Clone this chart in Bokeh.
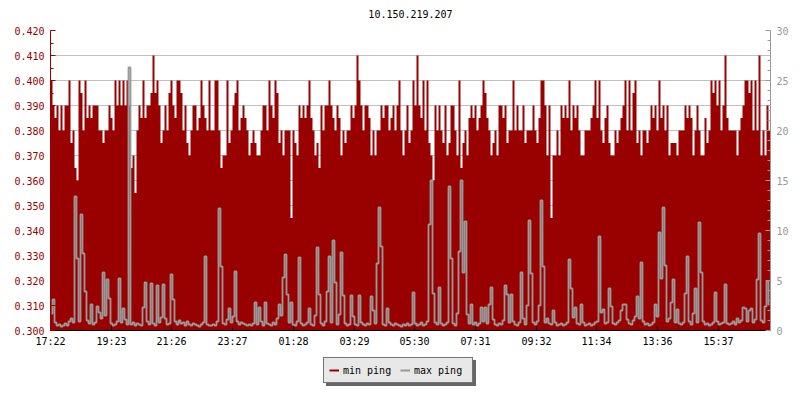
from bokeh.plotting import figure
from bokeh.layouts import column
from bokeh.models import Range1d, LinearAxis, FixedTicker, PrintfTickFormatter, Legend, LegendItem, Label
from bokeh.embed import file_html
from bokeh.resources import INLINE

TITLE = "10.150.219.207"
STEP_MIN = 4  # minutes per sample, first sample at 17:22

# minimum ping, microseconds (0.380 ms -> 380)
min_ping_us = [
    400, 390, 385, 390, 380, 390, 380, 390, 390, 400,
    375, 380, 365, 360, 400, 395, 380, 400, 385, 390,
    385, 390, 390, 390, 380, 380, 375, 380, 380, 390,
    385, 380, 400, 390, 400, 390, 400, 390, 400, 390,
    365, 370, 355, 380, 390, 385, 400, 385, 390, 390,
    395, 410, 395, 400, 390, 375, 380, 390, 380,
    395, 400, 390, 385, 400, 400, 395, 380, 390, 375,
    370, 380, 390, 390, 380, 385, 400, 390, 385, 380,
    400, 380, 380, 400, 400, 380, 365, 370, 370, 400,
    375, 380, 390, 395, 400, 380, 385, 390, 385, 380,
    370, 375, 380, 375, 370, 370, 380, 390, 390, 380,
    400, 390, 385, 400, 395, 375, 380, 370, 380, 380,
    380, 345, 380, 375, 370, 390, 385, 390, 385, 390,
    400, 385, 380, 370, 375, 365, 390, 380, 390, 390,
    400, 390, 385, 380, 390, 385, 370, 380, 375, 380,
    380, 390, 385, 390, 410, 400, 390, 380, 390, 390,
    385, 370, 380, 370, 380, 380, 390, 385, 390, 390,
    380, 385, 390, 380, 390, 400, 380, 370, 380, 390,
    375, 380, 400, 390, 410, 390, 385, 400, 380, 400,
    375, 370, 360, 390, 380, 390, 380, 375, 390, 370,
    375, 390, 390, 380, 370, 400, 365, 375, 380, 370,
    385, 390, 385, 390, 380, 385, 390, 400, 395, 385,
    380, 370, 375, 380, 370, 390, 390, 385, 390, 375,
    380, 380, 400, 380, 390, 380, 380, 390, 375, 380,
    380, 380, 390, 380, 375, 385, 400, 400, 390, 370,
    390, 345, 370, 370, 380, 370, 390, 385, 390, 385,
    400, 380, 390, 385, 390, 380, 370, 370, 380, 380,
    380, 385, 390, 400, 385, 400, 380, 375, 385, 390,
    375, 370, 370, 380, 375, 380, 385, 390, 400, 380,
    400, 380, 395, 400, 375, 380, 370, 380, 380, 375,
    380, 390, 385, 390, 380, 400, 385, 390, 380, 390,
    370, 375, 375, 375, 370, 380, 380, 380, 390, 385,
    390, 385, 370, 380, 390, 380, 370, 370, 385, 375,
    380, 400, 395, 400, 390, 400, 380, 390, 410, 385,
    380, 380, 380, 380, 370, 380, 385, 390, 400, 400,
    395, 400, 380, 400, 380, 410, 370, 380, 370, 390,
    380,
]

# maximum ping, milliseconds
max_ping_ms = [
    1.7, 3.1, 0.8, 0.5, 0.6, 0.4, 0.5, 0.7, 0.5, 0.9, 1.2, 0.8, 13.4, 7.2, 0.9, 11.6, 7.7, 3.9, 1.0, 0.7,
    2.6, 0.6, 0.8, 2.4, 1.8, 1.2, 5.8, 1.5, 5.1, 3.2, 0.7, 0.5, 0.6, 0.9, 5.2, 0.8, 2.2, 1.1, 0.6, 26.3,
    0.6, 0.8, 0.5, 0.7, 0.6, 0.5, 2.3, 4.8, 0.9, 0.6, 4.7, 0.7, 0.5, 4.5, 0.8, 1.3, 4.6, 1.2, 0.6, 0.7,
    5.6, 3.1, 0.9, 0.6, 1.0, 0.7, 0.8, 0.5, 0.9, 0.6, 0.5, 0.7, 0.6, 0.5, 0.4, 0.6, 0.8, 7.4, 0.6, 0.5,
    0.5, 0.6, 0.5, 0.9, 12.2, 6.4, 0.7, 0.6, 1.1, 2.2, 0.8, 1.4, 5.9, 0.9, 0.6, 0.8, 0.7, 0.6, 0.5, 0.6,
    0.5, 0.7, 2.8, 0.6, 2.3, 0.9, 0.5, 2.8, 0.7, 0.6, 0.5, 0.8, 0.6, 1.2, 2.6, 1.5, 5.3, 7.6, 3.6, 0.8,
    2.8, 0.6, 0.5, 0.9, 7.3, 0.7, 0.5, 0.6, 0.8, 2.2, 0.6, 0.5, 1.5, 8.3, 3.6, 0.7, 0.5, 0.9, 3.9, 7.4,
    0.8, 9.0, 4.8, 0.6, 1.6, 7.8, 3.5, 0.7, 0.5, 0.6, 3.5, 1.4, 0.6, 0.5, 3.5, 0.8, 0.6, 0.5, 0.7, 0.6,
    3.4, 2.0, 0.7, 6.7, 12.3, 8.4, 0.6, 0.5, 2.2, 0.8, 0.6, 0.5, 0.7, 0.6, 0.5, 0.4, 0.6, 0.5, 0.7, 0.5,
    0.6, 3.8, 0.7, 0.5, 0.6, 0.8, 0.5, 0.6, 0.9, 10.6, 15.0, 3.7, 0.8, 0.6, 4.3, 0.7, 0.5, 0.6, 0.8, 14.4,
    7.2, 0.7, 0.5, 1.7, 7.9, 15.0, 5.8, 10.9, 1.6, 0.7, 2.6, 0.6, 0.8, 0.5, 0.7, 2.3, 0.9, 2.3, 0.7, 2.6,
    4.3, 1.1, 0.6, 0.5, 0.7, 0.6, 1.0, 4.5, 3.6, 0.8, 3.6, 0.9, 0.6, 0.5, 0.8, 5.8, 1.2, 0.6, 2.5, 11.0,
    5.7, 0.8, 0.6, 0.9, 2.5, 13.0, 6.4, 0.8, 1.2, 0.7, 0.6, 2.0, 0.8, 0.5, 0.6, 0.7, 0.5, 0.6, 0.8, 7.1,
    4.2, 1.3, 2.3, 0.7, 0.6, 2.6, 0.8, 0.5, 0.6, 0.7, 0.5, 0.6, 0.8, 0.9, 9.4, 1.8, 2.1, 0.7, 0.8, 4.2,
    2.4, 0.7, 0.6, 0.8, 1.0, 2.0, 2.6, 2.6, 1.1, 0.7, 0.6, 1.0, 1.4, 3.4, 1.2, 6.8, 0.9, 0.6, 0.7, 0.5,
    0.6, 0.8, 2.6, 1.4, 9.8, 5.2, 12.3, 6.5, 0.9, 1.2, 2.8, 5.1, 0.8, 2.1, 0.7, 0.6, 0.8, 3.7, 7.4, 0.9,
    0.6, 1.7, 4.2, 0.8, 10.8, 5.8, 0.9, 0.6, 0.7, 0.5, 0.6, 0.8, 3.8, 0.9, 0.6, 0.7, 0.8, 4.6, 0.7, 0.6,
    0.7, 0.9, 0.6, 1.2, 0.8, 1.0, 2.3, 2.2, 0.9, 2.0, 2.2, 0.8, 1.1, 5.1, 9.7, 1.0, 0.8, 2.4, 4.9, 2.6,
]

x_tick_minutes = [0, 122, 242, 364, 486, 608, 728, 850, 972, 1092, 1214, 1336]
x_tick_labels = ["17:22", "19:23", "21:26", "23:27", "01:28", "03:29",
                 "05:30", "07:31", "09:32", "11:34", "13:36", "15:37"]
left_ticks = [0.30, 0.31, 0.32, 0.33, 0.34, 0.35, 0.36, 0.37, 0.38, 0.39, 0.40, 0.41, 0.42]
left_minor = [0.305, 0.315, 0.325, 0.335, 0.345, 0.355, 0.365, 0.375, 0.385, 0.395, 0.405, 0.415]
right_ticks = [0, 5, 10, 15, 20, 25, 30]
right_minor = [v for v in range(0, 31) if v % 5 != 0]
legend_labels = ["min ping", "max ping"]

RED = "#990000"
GRAY = "#999999"
SHADOW = "#666666"
FONT = "DejaVu Sans Mono"
FS = "10px"

n = len(min_ping_us)
total = n * STEP_MIN

# ---- title strip (frame aligned with the chart: x 50..770) ----
pt = figure(width=800, height=20, output_backend="svg", toolbar_location=None,
            x_range=Range1d(0, 720), y_range=Range1d(0, 20),
            x_axis_type=None, y_axis_type=None, min_border=0)
pt.outline_line_color = None
pt.grid.visible = False
pt.add_layout(Label(x=360, y=6.5, text=TITLE, text_align="center", text_baseline="middle",
                    text_font=FONT, text_font_size=FS, text_color="black"))

# ---- main chart ----
p = figure(width=800, height=330, output_backend="svg", toolbar_location=None,
           x_range=Range1d(0, total), y_range=Range1d(0.30, 0.42),
           min_border_left=50, min_border_right=30, min_border_top=10, min_border_bottom=20)
p.outline_line_color = None
p.background_fill_color = "white"
p.border_fill_color = "white"

# min ping area (step shaped)
xs, ys = [], []
for i, v in enumerate(min_ping_us):
    xs += [i * STEP_MIN, (i + 1) * STEP_MIN]
    ys += [v / 1000.0, v / 1000.0]
p.varea(x=xs, y1=0.30, y2=ys, fill_color=RED)

# max ping step line on right axis
p.extra_y_ranges = {"right": Range1d(0, 30)}
mx = [i * STEP_MIN + STEP_MIN / 2 for i in range(n)]
p.step(mx, max_ping_ms, mode="center", line_color=GRAY, line_width=1.8, y_range_name="right")

# axes
xt = FixedTicker(ticks=x_tick_minutes, minor_ticks=[])
p.xaxis.ticker = xt
p.xaxis.major_label_overrides = dict(zip(x_tick_minutes, x_tick_labels))
p.xaxis.axis_line_color = "black"
p.xaxis.major_tick_line_color = "black"
p.xaxis.major_tick_in = 4
p.xaxis.major_tick_out = 0
p.xaxis.minor_tick_line_color = None
p.xaxis.major_label_standoff = 5
p.xaxis.major_label_text_font = FONT
p.xaxis.major_label_text_font_size = FS
p.xaxis.major_label_text_color = "black"
p.xgrid.visible = False

lt = FixedTicker(ticks=left_ticks, minor_ticks=left_minor)
p.yaxis.ticker = lt
p.ygrid.ticker = lt
p.yaxis.formatter = PrintfTickFormatter(format="%.3f")
p.yaxis.axis_line_color = RED
p.yaxis.major_tick_line_color = RED
p.yaxis.minor_tick_line_color = RED
p.yaxis.major_tick_in = 5
p.yaxis.major_tick_out = 0
p.yaxis.minor_tick_in = 3
p.yaxis.minor_tick_out = 0
p.yaxis.major_label_standoff = 6
p.yaxis.major_label_text_font = FONT
p.yaxis.major_label_text_font_size = FS
p.yaxis.major_label_text_color = RED
p.ygrid.grid_line_color = "#c0c0c0"

rax = LinearAxis(y_range_name="right",
                 ticker=FixedTicker(ticks=right_ticks, minor_ticks=right_minor))
rax.axis_line_color = GRAY
rax.major_tick_line_color = GRAY
rax.minor_tick_line_color = GRAY
rax.major_tick_in = 5
rax.major_tick_out = 0
rax.minor_tick_in = 3
rax.minor_tick_out = 0
rax.major_label_standoff = 6
rax.major_label_text_font = FONT
rax.major_label_text_font_size = FS
rax.major_label_text_color = GRAY
p.add_layout(rax, "right")

# ---- legend strip below the chart (with drop shadow); frame aligned (x from 50) ----
p2 = figure(width=800, height=50, output_backend="svg", toolbar_location=None,
            x_range=Range1d(0, 800), y_range=Range1d(0, 50),
            x_axis_type=None, y_axis_type=None, min_border=0)
p2.outline_line_color = None
p2.grid.visible = False

# legend-only renderers, placed outside the visible range
off_x = [-100, -90]
off_y = [-100, -100]
r_min = p2.line(x=off_x, y=off_y, line_color=RED, line_width=2)
r_max = p2.line(x=off_x, y=off_y, line_color=GRAY, line_width=2)
s_min = p2.line(x=off_x, y=off_y, line_color=SHADOW, line_width=2)
s_max = p2.line(x=off_x, y=off_y, line_color=SHADOW, line_width=2)

def make_legend(labels, renderers, loc, bg, border, text_color):
    items = [LegendItem(label=lab, renderers=[r]) for lab, r in zip(labels, renderers)]
    return Legend(items=items, location=loc, orientation="horizontal",
                  glyph_width=10, glyph_height=14, label_height=14, label_width=53,
                  label_standoff=4, spacing=4, padding=5, margin=0,
                  label_text_font=FONT, label_text_font_size=FS,
                  label_text_color=text_color,
                  background_fill_color=bg, background_fill_alpha=1.0,
                  border_line_color=border, border_line_width=1)

p2.add_layout(make_legend([" ", " "], [s_min, s_max], (276, 14), SHADOW, SHADOW, SHADOW), "center")
p2.add_layout(make_legend(legend_labels, [r_min, r_max], (273, 17), "#e8e8e8", "black", "black"), "center")

open("out.html", "w").write(file_html(column(pt, p, p2, spacing=0), INLINE))
